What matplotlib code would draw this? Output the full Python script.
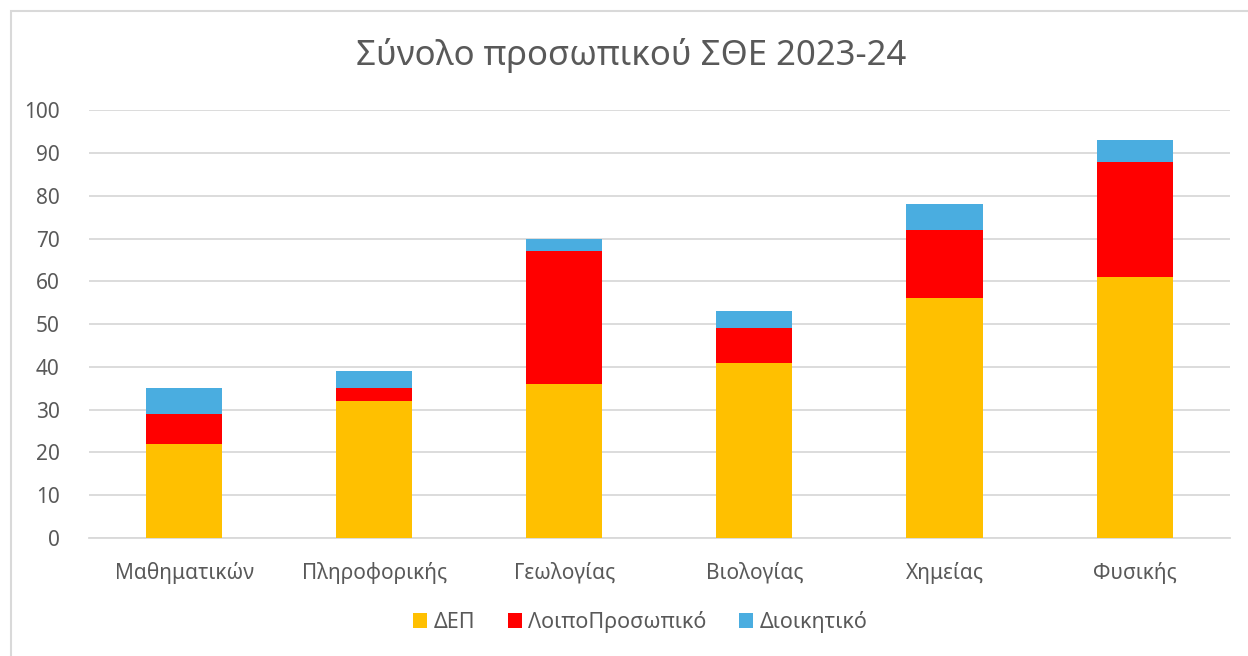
import matplotlib.pyplot as plt
from matplotlib.patches import Rectangle

plt.rcParams['font.family'] = ['Noto Sans', 'DejaVu Sans']

# data
departments = ["Μαθηματικών", "Πληροφορικής", "Γεωλογίας", "Βιολογίας", "Χημείας", "Φυσικής"]
dep = [22, 32, 36, 41, 56, 61]
loipo = [7, 3, 31, 8, 16, 27]
dioik = [6, 4, 3, 4, 6, 5]

series_names = ["ΔΕΠ", "ΛοιποΠροσωπικό", "Διοικητικό"]
colors = ["#FFC000", "#FF0000", "#4AADE0"]
text_color = "#595959"

fig = plt.figure(figsize=(12.48, 6.56), dpi=100)
ax = fig.add_axes([0.0713, 0.180, 0.914, 0.652])

x = list(range(len(departments)))
bottom2 = [a + b for a, b in zip(dep, loipo)]
ax.bar(x, dep, width=0.4, color=colors[0], label=series_names[0], zorder=3)
ax.bar(x, loipo, width=0.4, bottom=dep, color=colors[1], label=series_names[1], zorder=3)
ax.bar(x, dioik, width=0.4, bottom=bottom2, color=colors[2], label=series_names[2], zorder=3)

ax.set_xlim(-0.5, len(departments) - 0.5)
ax.set_ylim(0, 100)
ax.set_yticks(range(0, 101, 10))
ax.set_xticks(x)
ax.set_xticklabels(departments)
ax.yaxis.grid(True, color="#D9D9D9", linewidth=1.3, zorder=0)
ax.tick_params(axis="both", length=0, colors=text_color, labelsize=15)
ax.tick_params(axis="y", pad=21)
ax.tick_params(axis="x", pad=17)
for s in ["top", "right", "left"]:
    ax.spines[s].set_visible(False)
ax.spines["bottom"].set_color("#D9D9D9")
ax.spines["bottom"].set_linewidth(1.3)

fig.text(0.506, 0.915, "Σύνολο προσωπικού ΣΘΕ 2023-24", ha="center", va="center",
         fontsize=25, color=text_color)

fig.legend(loc="center", bbox_to_anchor=(0.513, 0.052), ncol=3, frameon=False,
           fontsize=15.5, handlelength=0.65, handleheight=0.65, handletextpad=0.3,
           columnspacing=1.5, labelcolor=text_color)

# chart border (left and top visible, rest clipped by image edge)
fig.patches.append(Rectangle((0.0088, -0.1), 1.2, 1.083, transform=fig.transFigure,
                             fill=False, edgecolor="#D9D9D9", linewidth=1.5))

fig.savefig("out.png", dpi=100)
